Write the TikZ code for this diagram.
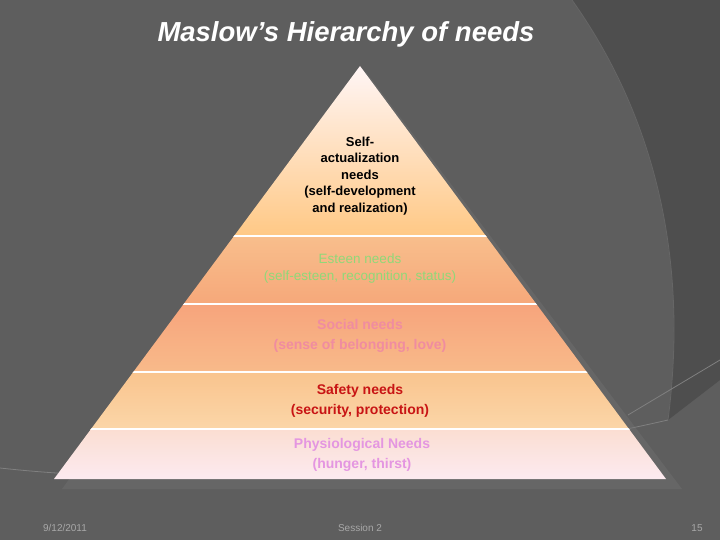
\documentclass[tikz,border=0pt]{standalone}
\usepackage{fontspec}
\setmainfont{Liberation Sans}
\begin{document}
\begin{tikzpicture}[x=1pt,y=-1pt,
  lbl/.style={align=center},
  foot/.style={font=\fontsize{10}{12}\selectfont,text=footgray},
  sep/.style={white,line width=2.5pt}]
\definecolor{bg}{HTML}{5E5E5E}
\definecolor{dark}{HTML}{4E4E4E}
\definecolor{footgray}{HTML}{A8A8A8}
\useasboundingbox (0,0) rectangle (720,540);
\fill[bg] (0,0) rectangle (720,540);
% decorative dark region
\fill[dark] (572,0) .. controls (650,110) and (690,250) .. (668,420) -- (720,380) -- (720,0) -- cycle;
\draw[black!60,line width=0.8pt] (572,0) .. controls (650,110) and (690,250) .. (668,420);
\draw[black!50,line width=0.8pt] (0,468) .. controls (200,490) and (450,470) .. (668,420);
\draw[black!50,line width=0.8pt] (628,415) -- (720,360);
% shadow
\fill[black!55,opacity=0.4] (366,72) -- (682,489) -- (62,489) -- cycle;
% pyramid bands
\begin{scope}
\clip (360,66) -- (666,479) -- (54,479) -- cycle;
\shade[top color=white!85!pink, bottom color=orange!45!white!95!yellow] (0,66) rectangle (720,236);
\shade[top color={rgb,255:red,248;green,190;blue,140}, bottom color={rgb,255:red,246;green,168;blue,122}] (0,236) rectangle (720,304);
\shade[top color={rgb,255:red,247;green,164;blue,124}, bottom color={rgb,255:red,248;green,186;blue,138}] (0,304) rectangle (720,372);
\shade[top color={rgb,255:red,249;green,196;blue,142}, bottom color={rgb,255:red,251;green,214;blue,168}] (0,372) rectangle (720,429);
\shade[top color={rgb,255:red,251;green,222;blue,210}, bottom color={rgb,255:red,252;green,234;blue,240}] (0,429) rectangle (720,479);
\draw[sep] (0,236) -- (720,236);
\draw[sep] (0,304) -- (720,304);
\draw[sep] (0,372) -- (720,372);
\draw[sep] (0,429) -- (720,429);
\end{scope}
\node[font=\bfseries\itshape\fontsize{27.5}{30}\selectfont,text=white] (title) at (346,34) {Maslow’s Hierarchy of needs};
\node[lbl,text=black,font=\fontsize{13}{16.5}\selectfont\bfseries] (self) at (360,176) {Self-\\actualization\\needs\\(self-development\\and realization)};
\node[lbl,text={rgb,255:red,144;green,216;blue,120},font=\fontsize{13.5}{17}\selectfont] (esteem) at (360,269) {Esteen needs\\(self-esteen, recognition, status)};
\node[lbl,text={rgb,255:red,240;green,140;blue,160},font=\bfseries\fontsize{14}{19.5}\selectfont] (social) at (360,336) {Social needs\\(sense of belonging, love)};
\node[lbl,text={rgb,255:red,200;green,20;blue,20},font=\bfseries\fontsize{14}{19.5}\selectfont] (safety) at (360,401) {Safety needs\\(security, protection)};
\node[lbl,text={rgb,255:red,228;green,150;blue,225},font=\bfseries\fontsize{14}{19.5}\selectfont] (phys) at (362,455) {Physiological Needs\\(hunger, thirst)};
\node[foot] (date) at (65,528) {9/12/2011};
\node[foot] (sess) at (360,528) {Session 2};
\node[foot] (page) at (697,528) {15};
\end{tikzpicture}
\end{document}
